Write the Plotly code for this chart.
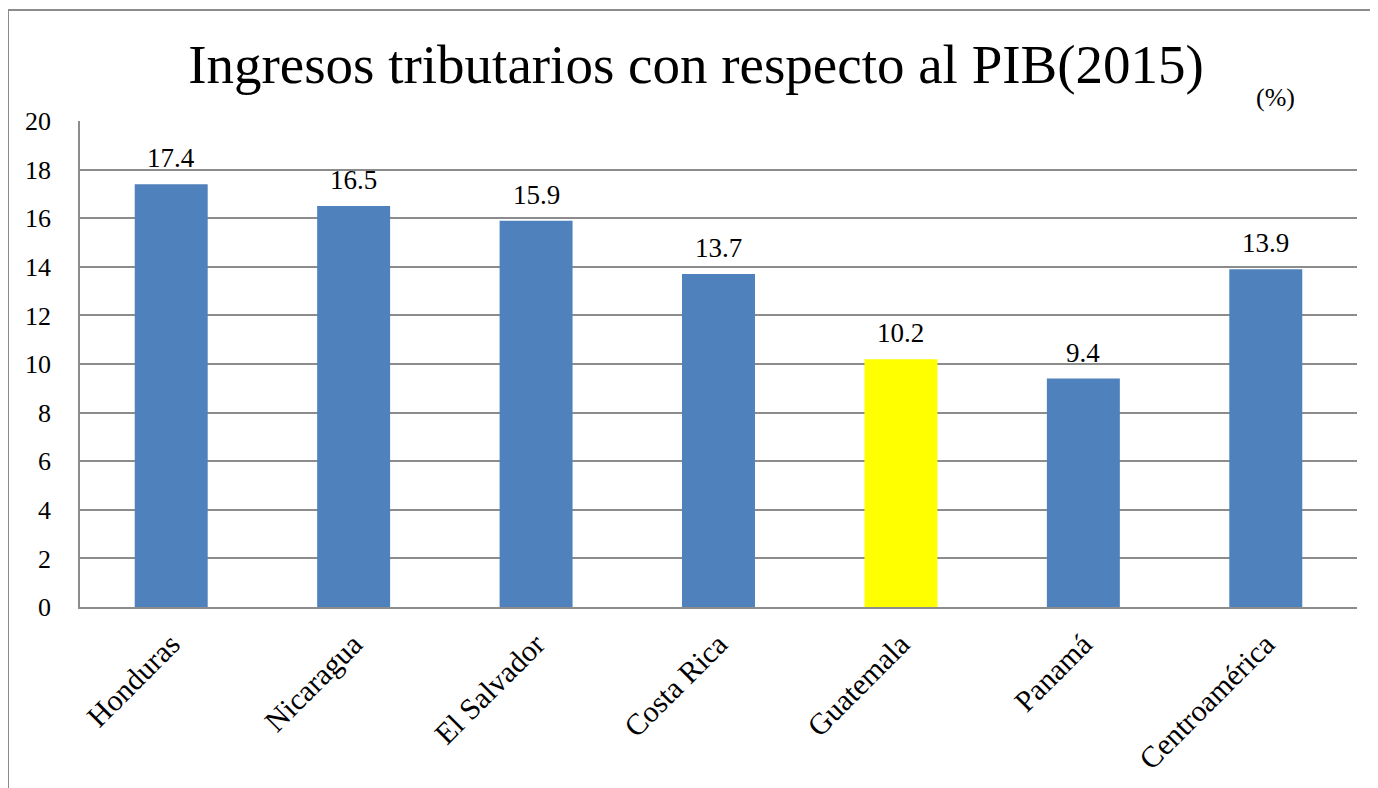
import plotly.graph_objects as go

# datos
paises = ["Honduras", "Nicaragua", "El Salvador", "Costa Rica", "Guatemala", "Panamá", "Centroamérica"]
ingresos = [17.4, 16.5, 15.9, 13.7, 10.2, 9.4, 13.9]
colores = ["#4F81BD", "#4F81BD", "#4F81BD", "#4F81BD", "#FFFF00", "#4F81BD", "#4F81BD"]
ticks_y = [0, 2, 4, 6, 8, 10, 12, 14, 16, 18, 20]

FONT = "Liberation Serif"
GRIS = "#8C8C8C"

# la página tiene 8px de margen en el body, así que se compensa aquí
W, H = 1370, 780
L, R, T, B = 72, 21, 113, 181
PW, PH = W - L - R, H - T - B

fig = go.Figure()

fig.add_trace(go.Bar(
    x=paises,
    y=ingresos,
    marker=dict(color=colores, line=dict(width=0)),
    hoverinfo="x+y",
))

# etiquetas de valor encima de cada barra
for p, v in zip(paises, ingresos):
    fig.add_annotation(
        x=p, y=v, text=f"{v:.1f}",
        showarrow=False, yanchor="bottom", yshift=9,
        font=dict(family=FONT, size=27, color="black"),
    )

fig.update_layout(
    width=W,
    height=H,
    paper_bgcolor="white",
    plot_bgcolor="white",
    showlegend=False,
    bargap=0.6,
    margin=dict(l=L, r=R, t=T, b=B, autoexpand=False),
    font=dict(family=FONT, color="black"),
    title=dict(
        text="Ingresos tributarios con respecto al PIB(2015)",
        x=(688 - L) / PW, xref="paper", xanchor="center",
        y=1 - 56 / H, yanchor="middle",
        font=dict(family=FONT, size=55, color="black"),
    ),
)

fig.update_yaxes(
    range=[0, 20],
    tickvals=ticks_y,
    showgrid=True,
    gridcolor=GRIS,
    gridwidth=1.5,
    showline=True,
    linecolor=GRIS,
    linewidth=1.5,
    zeroline=False,
    ticks="",
    ticklabelstandoff=22,
    tickfont=dict(family=FONT, size=26, color="black"),
)

fig.update_xaxes(
    tickangle=-45,
    showline=True,
    linecolor=GRIS,
    linewidth=1.5,
    ticks="",
    ticklabelstandoff=6,
    tickfont=dict(family=FONT, size=30, color="black"),
)

# unidad
fig.add_annotation(
    text="(%)", xref="paper", yref="paper",
    x=(1267 - L) / PW, y=1 + (T - 90) / PH,
    xanchor="center", yanchor="middle",
    showarrow=False,
    font=dict(family=FONT, size=26, color="black"),
)

# borde del gráfico (sale del lienzo a la derecha y abajo)
fig.add_shape(
    type="rect", xref="paper", yref="paper",
    x0=-L / PW, x1=1.1, y0=-0.5, y1=1 + (T - 2) / PH,
    line=dict(color=GRIS, width=2),
    fillcolor="rgba(0,0,0,0)",
    layer="below",
)

fig.write_html("out.html")
